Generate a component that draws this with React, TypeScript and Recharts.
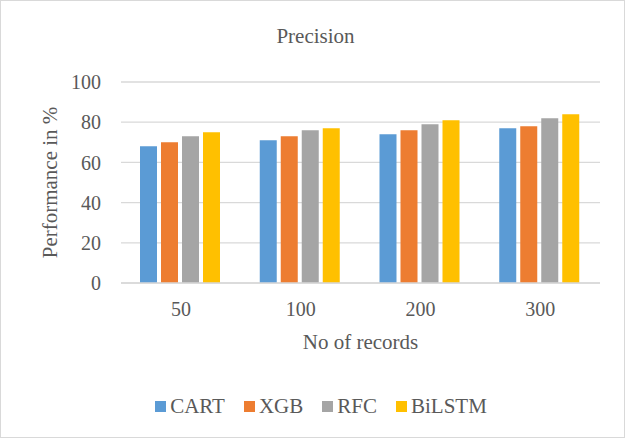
import { BarChart, Bar, XAxis, YAxis, CartesianGrid, Legend } from "recharts";

const records = ["50", "100", "200", "300"];
const seriesNames = ["CART", "XGB", "RFC", "BiLSTM"];
const seriesColors = ["#5B9BD5", "#ED7D31", "#A5A5A5", "#FFC000"];
const cart = [68, 71, 74, 77];
const xgb = [70, 73, 76, 78];
const rfc = [73, 76, 79, 82];
const bilstm = [75, 77, 81, 84];
const yTicks = [0, 20, 40, 60, 80, 100];

const data = records.map((r, i) => ({
  records: r,
  CART: cart[i],
  XGB: xgb[i],
  RFC: rfc[i],
  BiLSTM: bilstm[i],
}));

const font = "Liberation Serif";
const textColor = "#595959";

// Excel-style legend: small squares, wider spacing than the recharts default
function ChartLegend({ payload }: any) {
  const items = [...(payload || [])].sort(
    (a: any, b: any) => seriesNames.indexOf(a.value) - seriesNames.indexOf(b.value)
  );
  return (
    <div
      style={{
        display: "flex",
        justifyContent: "center",
        gap: 19,
        paddingLeft: 17,
        fontFamily: font,
        fontSize: 21,
        color: textColor,
      }}
    >
      {items.map((e: any) => (
        <div key={e.value} style={{ display: "flex", alignItems: "center", gap: 4 }}>
          <div style={{ width: 11, height: 11, background: e.color }} />
          <span style={{ lineHeight: "24px" }}>{e.value}</span>
        </div>
      ))}
    </div>
  );
}

export default function App() {
  return (
    <div
      style={{
        position: "relative",
        width: 625,
        height: 438,
        border: "1px solid #d9d9d9",
        boxSizing: "border-box",
        background: "#fff",
        fontFamily: font,
      }}
    >
      <style>{`body{margin:0} .recharts-wrapper text{font-family:"Liberation Serif",serif}`}</style>
      <div
        style={{
          position: "absolute",
          top: 23,
          left: 2,
          width: 625,
          textAlign: "center",
          fontSize: 21,
          lineHeight: "24px",
          color: textColor,
        }}
      >
        Precision
      </div>
      <div style={{ position: "absolute", top: -1, left: -1 }}>
        <BarChart
          width={625}
          height={438}
          data={data}
          margin={{ top: 82, right: 25, left: 41, bottom: 85 }}
          barCategoryGap={19}
          barGap={4}
        >
          <CartesianGrid vertical={false} stroke="#d9d9d9" strokeWidth={1.3} />
          <XAxis
            dataKey="records"
            axisLine={{ stroke: "#d9d9d9", strokeWidth: 1.3 }}
            tickLine={false}
            tick={{ fill: textColor, fontSize: 20, fontFamily: font }}
            tickMargin={13}
            height={70}
            label={{
              value: "No of records",
              position: "insideBottom",
              offset: 4,
              style: { fill: textColor, fontSize: 21, fontFamily: font },
            }}
          />
          <YAxis
            domain={[0, 100]}
            ticks={yTicks}
            axisLine={false}
            tickLine={false}
            width={80}
            tickMargin={14}
            tick={{ fill: textColor, fontSize: 20, fontFamily: font }}
            label={{
              value: "Performance in %",
              angle: -90,
              position: "insideLeft",
              offset: 9,
              style: { fill: textColor, fontSize: 21, fontFamily: font, textAnchor: "middle" },
            }}
          />
          <Legend
            layout="horizontal"
            align="center"
            verticalAlign="middle"
            content={<ChartLegend />}
            wrapperStyle={{ top: 394, left: 0, width: 625 }}
          />
          {seriesNames.map((name, i) => (
            <Bar key={name} dataKey={name} fill={seriesColors[i]} isAnimationActive={false} />
          ))}
        </BarChart>
      </div>
    </div>
  );
}
